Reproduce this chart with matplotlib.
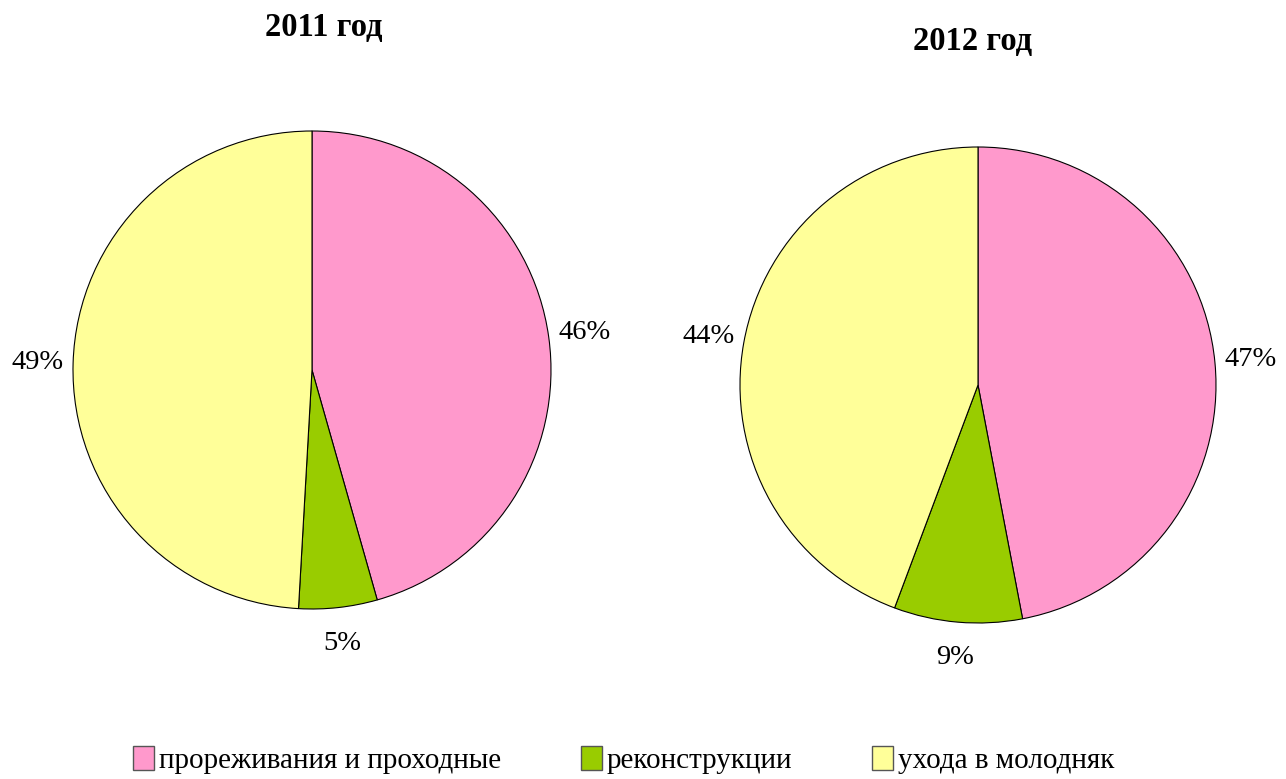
import matplotlib
matplotlib.use('Agg')
import matplotlib.pyplot as plt
from matplotlib.patches import Patch

plt.rcParams['font.family'] = ['Liberation Serif', 'DejaVu Serif']

# данные
categories = ['прореживания и проходные', 'реконструкции', 'ухода в молодняк']
colors = ['#FF99CC', '#99CC00', '#FFFF99']
years = ['2011 год', '2012 год']
values_2011 = [45.6, 5.3, 49.1]
values_2012 = [47.0, 8.7, 44.3]

W, H = 1286, 779
fig = plt.figure(figsize=(W / 100, H / 100), dpi=100)


def add_pie(cx, cy, r, vals, title, tx, ty):
    ax = fig.add_axes([(cx - r) / W, (H - cy - r) / H, 2 * r / W, 2 * r / H])
    ax.pie(vals, colors=colors, startangle=90, counterclock=False,
           autopct='%.0f%%', pctdistance=1.15,
           wedgeprops=dict(edgecolor='black', linewidth=0.8),
           textprops=dict(fontsize=20.5))
    ax.set_xlim(-1, 1)
    ax.set_ylim(-1, 1)
    ax.set_aspect('equal')
    fig.text(tx / W, 1 - ty / H, title, ha='center', va='center',
             fontsize=23.5, fontweight='bold')


add_pie(312, 370, 239, values_2011, years[0], 324, 27)
add_pie(978, 385, 238, values_2012, years[1], 973, 41)

handles = [Patch(facecolor=c, edgecolor='#555555', linewidth=1) for c in colors]
fig.legend(handles, categories, loc='center', bbox_to_anchor=(0.485, 1 - 760 / H),
           ncol=3, frameon=False, fontsize=21, handlelength=0.7, handleheight=0.9,
           handletextpad=0.17, columnspacing=2.75)

fig.savefig('out.png', dpi=100)
